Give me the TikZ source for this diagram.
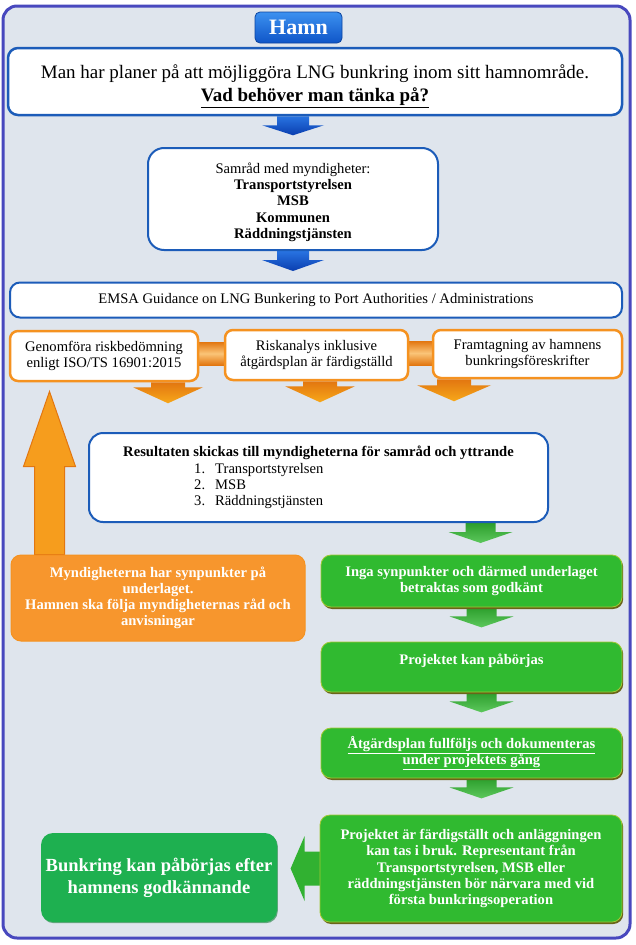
\documentclass[tikz,border=0pt]{standalone}
\usepackage{fontspec}
\setmainfont{Liberation Serif}
\usetikzlibrary{calc,shadows}
\pgfdeclarelayer{bg}
\pgfsetlayers{bg,main}
\definecolor{framecol}{RGB}{72,72,190}
\definecolor{bgcol}{RGB}{223,229,237}
\definecolor{boxblue}{RGB}{28,92,185}
\definecolor{hamntop}{RGB}{60,145,240}
\definecolor{hamnbot}{RGB}{15,85,200}
\definecolor{orange}{RGB}{245,146,32}
\definecolor{orangelt}{RGB}{250,196,120}
\definecolor{orangedk}{RGB}{226,118,16}
\definecolor{myndcol}{RGB}{247,150,45}
\definecolor{greencol}{RGB}{48,186,48}
\definecolor{greenedge}{RGB}{160,200,50}
\definecolor{gshadow}{RGB}{105,100,25}
\definecolor{bunkcol}{RGB}{30,176,80}
\definecolor{arrowblue1}{RGB}{40,115,225}
\definecolor{arrowblue2}{RGB}{10,62,175}
\definecolor{garrow}{RGB}{52,186,52}
\newcommand\myfn{\fontsize{14.6}{16.2}\selectfont}
\newcommand\myfl{\fontsize{19}{23}\selectfont}
\newcommand\myfb{\fontsize{18.5}{22}\selectfont\bfseries}
\newcommand\myfh{\fontsize{22}{24}\selectfont\bfseries}
% down block arrow: style, start coordinate, half shaft, half head, shaft length, head length
\newcommand\dblk[6]{\path[#1] ($(#2)+(-#3,0)$) -- ++(0,#5) -- ++({#3-#4},0) -- ++(#4,#6) -- ++(#4,-#6) -- ++({#3-#4},0) -- ++(0,-#5) -- cycle;}
\begin{document}
\begin{tikzpicture}[x=1pt,y=-1pt,
  frame/.style={draw=framecol, line width=3pt, fill=bgcol, rounded corners=14pt},
  bluebox/.style={draw=boxblue, line width=2pt, fill=white, rounded corners=10pt, align=center, inner sep=0pt, font=\myfn},
  hamnbox/.style={draw=hamnbot!80!black, line width=0.8pt, top color=hamntop, bottom color=hamnbot, rounded corners=5pt, text=white, font=\myfh, inner sep=0pt},
  obox/.style={draw=orange, line width=2.5pt, fill=white, rounded corners=8pt, align=center, inner sep=0pt, font=\myfn},
  mbox/.style={draw=orange, line width=1pt, fill=myndcol, rounded corners=10pt, align=center, inner sep=0pt, text=white, font=\myfn\bfseries},
  gbox/.style={draw=greenedge, line width=0.8pt, fill=greencol, rounded corners=10pt, align=center, inner sep=0pt, text=white, font=\myfn\bfseries,
    drop shadow={shadow xshift=1.2pt, shadow yshift=-2pt, fill=gshadow, opacity=1}},
  bkbox/.style={fill=bunkcol, rounded corners=12pt, align=center, inner sep=0pt, text=white, font=\myfb,
    drop shadow={shadow xshift=0.8pt, shadow yshift=-1.2pt, fill=bunkcol!70!black, opacity=0.6}},
  bluearrow/.style={top color=arrowblue1, bottom color=arrowblue2},
  orangearrow/.style={top color=orangedk, bottom color=orange!80!yellow},
  orangebar/.style={top color=orangedk, bottom color=orangedk, middle color=orangelt},
  greenarrow/.style={top color=garrow!85!black, bottom color=garrow!80!white},
  uparrow/.style={fill=orange!90!yellow, draw=orangedk, line width=1pt},
  leftarrow/.style={fill=garrow!95!black}
]
\useasboundingbox (0,0) rectangle (635,945);

\node[hamnbox, minimum width=87pt, minimum height=31pt] (hamn) at (298.5,27.5) {Hamn};
\node[bluebox, line width=2.5pt, minimum width=614pt, minimum height=67pt, font=\myfl] (top) at (315,81.5)
  {\rule{0pt}{24pt}Man har planer på att möjliggöra LNG bunkring inom sitt hamnområde.\\ \textbf{\underline{Vad behöver man tänka på?}}};
\node[bluebox, rounded corners=16pt, minimum width=290pt, minimum height=102pt] (samrad) at (293,199)
  {\rule{0pt}{17pt}Samråd med myndigheter:\\ \textbf{Transportstyrelsen}\\ \textbf{MSB}\\ \textbf{Kommunen}\\ \textbf{Räddningstjänsten}};
\node[bluebox, minimum width=612pt, minimum height=35pt] (emsa) at (316,300)
  {EMSA Guidance on LNG Bunkering to Port Authorities / Administrations};
\node[obox, minimum width=188pt, minimum height=50pt] (o1) at (104,356) {Genomföra riskbedömning\\ enligt ISO/TS 16901:2015};
\node[obox, minimum width=183pt, minimum height=50pt] (o2) at (316.5,355) {Riskanalys inklusive\\ åtgärdsplan är färdigställd};
\node[obox, minimum width=189pt, minimum height=48pt] (o3) at (527.5,354) {Framtagning av hamnens\\ bunkringsföreskrifter};
\node[bluebox, rounded corners=14pt, minimum width=459pt, minimum height=89pt, align=left] (res) at (318.5,477.5)
  {\textbf{Resultaten skickas till myndigheterna för samråd och yttrande}\\
   \hspace*{71pt}\makebox[21pt][l]{1.}Transportstyrelsen\\
   \hspace*{71pt}\makebox[21pt][l]{2.}MSB\\
   \hspace*{71pt}\makebox[21pt][l]{3.}Räddningstjänsten};
\node[mbox, minimum width=294pt, minimum height=86pt] (mynd) at (158,598)
  {Myndigheterna har synpunkter på\\ underlaget.\\ Hamnen ska följa myndigheternas råd och\\ anvisningar};
\node[gbox, minimum width=301pt, minimum height=52pt] (inga) at (471.5,581)
  {Inga synpunkter och därmed underlaget\\ betraktas som godkänt};
\node[gbox, minimum width=301pt, minimum height=50pt] (proj) at (471.5,667)
  {Projektet kan påbörjas\\ \mbox{}};
\node[gbox, minimum width=301pt, minimum height=50pt] (atg) at (471.5,753)
  {\underline{Åtgärdsplan fullföljs och dokumenteras}\\ \underline{under projektets gång}};
\node[gbox, minimum width=302pt, minimum height=107pt] (fard) at (471,868.5)
  {Projektet är färdigställt och anläggningen\\ kan tas i bruk. Representant från\\ Transportstyrelsen, MSB eller\\ räddningstjänsten bör närvara med vid\\ första bunkringsoperation};
\node[bkbox, minimum width=236pt, minimum height=89pt] (bunk) at (159,877.5)
  {Bunkring kan påbörjas efter\\ hamnens godkännande};

\begin{pgfonlayer}{bg}
\draw[frame] (3,6) rectangle (630,938);
% blue arrows
\coordinate (b1) at (top.south -| samrad.north);
\dblk{bluearrow}{b1}{16}{31}{9}{10}
\dblk{bluearrow}{samrad.south}{16}{31}{9}{11}
% orange bars between the three boxes
\shade[orangebar] ($(o1.east)+(-2,-14)$) rectangle ($(o2.west)+(2,10)$);
\shade[orangebar] ($(o2.east)+(-2,-14)$) rectangle ($(o3.west)+(2,11)$);
% orange arrows
\coordinate (a1) at ($(o1.south)+(64,0)$);
\coordinate (a2) at ($(o2.south)+(3.5,0)$);
\coordinate (a3) at ($(o3.south)+(-73.5,0)$);
\dblk{orangearrow}{a1}{17}{35}{5}{16}
\dblk{orangearrow}{a2}{17}{35}{5}{16}
\dblk{orangearrow}{a3}{17}{37}{6}{16}
% green arrows
\coordinate (g0) at ($(res.south -| inga.south)+(9,0)$);
\coordinate (g1) at ($(inga.south)+(10,0)$);
\coordinate (g2) at ($(proj.south)+(10,0)$);
\coordinate (g3) at ($(atg.south)+(10,0)$);
\dblk{greenarrow}{g0}{15}{32}{9}{11}
\dblk{greenarrow}{g1}{15}{32}{9}{11}
\dblk{greenarrow}{g2}{15}{32}{9}{11}
\dblk{greenarrow}{g3}{15}{32}{9}{11}
% big orange arrow up
\coordinate (u0) at ($(mynd.north west)+(39,0)$);
\path[uparrow] ($(u0)+(-15,0)$) -- ++(0,-88) -- ++(-11,0) -- ++(26,-75) -- ++(26,75) -- ++(-11,0) -- ++(0,88) -- cycle;
% green arrow left
\path[leftarrow] ($(fard.west)+(1,-17)$) -- ++(-16,0) -- ++(0,-15.5) -- ++(-14,32.5) -- ++(14,32.5) -- ++(0,-15.5) -- ++(16,0) -- cycle;
\end{pgfonlayer}
\end{tikzpicture}
\end{document}
